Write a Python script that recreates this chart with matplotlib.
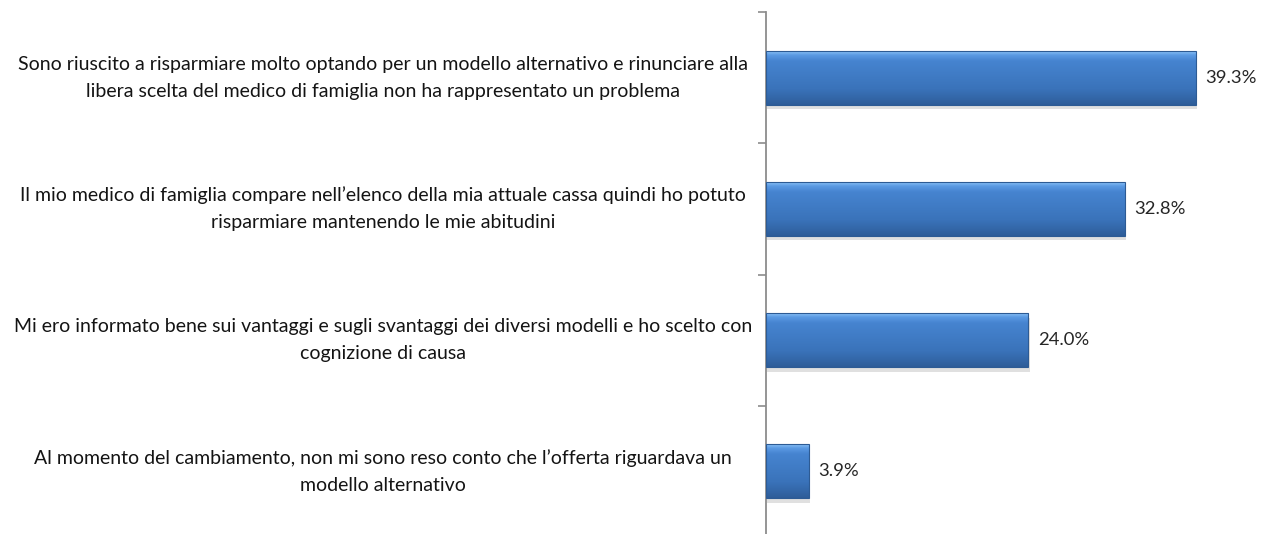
import matplotlib
matplotlib.use("Agg")
import matplotlib.pyplot as plt
import numpy as np
from matplotlib.colors import LinearSegmentedColormap
from matplotlib.patches import Rectangle

categories = [
    "Sono riuscito a risparmiare molto optando per un modello alternativo e rinunciare alla\nlibera scelta del medico di famiglia non ha rappresentato un problema",
    "Il mio medico di famiglia compare nell\u2019elenco della mia attuale cassa quindi ho potuto\nrisparmiare mantenendo le mie abitudini",
    "Mi ero informato bene sui vantaggi e sugli svantaggi dei diversi modelli e ho scelto con\ncognizione di causa",
    "Al momento del cambiamento, non mi sono reso conto che l\u2019offerta riguardava un\nmodello alternativo",
]
values = [39.3, 32.8, 24.0, 3.9]
value_labels = ["39.3%", "32.8%", "24.0%", "3.9%"]

plt.rcParams['font.family'] = ['Lato', 'DejaVu Sans']

fig = plt.figure(figsize=(12.61, 5.34), dpi=100)
ax = fig.add_axes([766/1261, -3/534, (1258-766)/1261, (537-12)/534])

n = len(categories)
ypos = np.arange(n)
height = 0.41

ax.set_xlim(0, 45)
ax.set_ylim(n - 0.5, -0.5)

cmap = LinearSegmentedColormap.from_list(
    "g", [(0.0, "#8cc2f6"), (0.07, "#5c9be4"), (0.18, "#4684d0"),
          (0.7, "#3a73ba"), (1.0, "#2e5d99")])
grad = np.linspace(0, 1, 256).reshape(-1, 1)

bars = ax.barh(ypos, values, height=height, color="none", edgecolor="none", zorder=3)
for b in bars:
    x0, y0 = b.get_x(), b.get_y()
    w, h = b.get_width(), b.get_height()
    sh = Rectangle((x0 + 0.12, y0 + 0.035), w, h, facecolor="#000000", alpha=0.12,
                   edgecolor="none", zorder=2)
    ax.add_patch(sh)
    im = ax.imshow(grad, cmap=cmap, aspect="auto", extent=(x0, x0 + w, y0 + h, y0),
                   zorder=3, interpolation="bilinear")
    clip = Rectangle((x0, y0), w, h, transform=ax.transData, facecolor="none", edgecolor="none")
    ax.add_patch(clip)
    im.set_clip_path(clip)
    ax.add_patch(Rectangle((x0, y0), w, h, facecolor="none", edgecolor="#2d5b94", lw=0.8, zorder=4))

for y, v, lab in zip(ypos, values, value_labels):
    ax.text(v + 0.85, y, lab, va="center", ha="left", fontsize=13.3, color="#262626")

ax.set_xticks([])
for s in ["top", "right", "bottom"]:
    ax.spines[s].set_visible(False)
ax.spines["left"].set_color("#8c8c8c")
ax.spines["left"].set_linewidth(1.3)

ax.set_yticks([])
ax.set_yticks(np.arange(-0.5, n, 1.0), minor=True)
ax.tick_params(axis="y", which="minor", length=6, width=1.2, color="#8c8c8c", left=True)

for y, c in zip(ypos, categories):
    ax.annotate(c, xy=(0, y), xycoords="data", xytext=(-383, 0), textcoords="offset pixels",
                ha="center", va="center", fontsize=14.0, color="#141414", linespacing=1.7)

ax.set_xlim(0, 45)
ax.set_ylim(n - 0.5, -0.5)

fig.savefig("out.png", dpi=100)
